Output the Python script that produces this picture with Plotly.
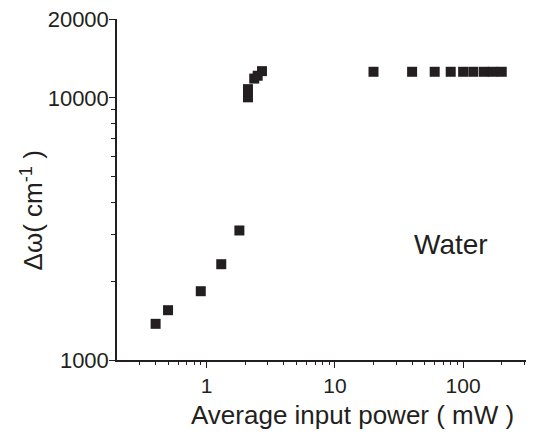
import plotly.graph_objects as go

# measured points (power in mW, delta omega in cm-1)
power = [0.4, 0.5, 0.9, 1.3, 1.8, 2.1, 2.1, 2.35, 2.5, 2.7,
         20, 40, 60, 80, 100, 120, 145, 170, 200]
delta_w = [1374, 1549, 1830, 2320, 3120, 10050, 10800, 11850, 12150, 12650,
           12580, 12580, 12580, 12580, 12580, 12580, 12580, 12580, 12580]

x_ticks = [1, 10, 100]
x_minor = [0.3, 0.4, 0.5, 0.6, 0.7, 0.8, 0.9, 2, 3, 4, 5, 6, 7, 8, 9,
           20, 30, 40, 50, 60, 70, 80, 90, 200, 300]
y_ticks = [1000, 10000, 20000]
y_minor = [2000, 3000, 4000, 5000, 6000, 7000, 8000, 9000]

ink = "#231f20"
font = "Liberation Sans, Arial, sans-serif"

fig = go.Figure()
fig.add_trace(go.Scatter(x=power, y=delta_w, mode="markers",
                         marker=dict(symbol="square", size=10, color=ink,
                                     line=dict(width=0))))

fig.add_annotation(x=1.907, y=3.441, xref="x", yref="y", text="Water",
                   showarrow=False, font=dict(size=28, color=ink, family=font))
# axis titles placed as annotations (original plot is cropped on the right)
fig.add_annotation(x=1.134, y=0, xref="x", yref="paper", yanchor="top",
                   yshift=-38, text="Average input power ( mW )",
                   showarrow=False, font=dict(size=26, color=ink, family=font))
fig.add_annotation(x=0, y=0.437, xref="paper", yref="paper", xanchor="right",
                   xshift=-66, textangle=-90,
                   text="\u0394\u03c9( cm<sup>-1</sup> )",
                   showarrow=False, font=dict(size=26, color=ink, family=font))

fig.update_xaxes(type="log", range=[-0.699, 2.5525], automargin=False,
                 tickvals=x_ticks, ticktext=[str(v) for v in x_ticks],
                 ticklabeloverflow="allow",
                 ticks="outside", ticklen=6, tickwidth=1.2, tickcolor=ink,
                 minor=dict(tickvals=x_minor, ticks="outside", ticklen=3,
                            tickwidth=1.2, tickcolor=ink, showgrid=False),
                 showline=True, linecolor=ink, linewidth=1.5,
                 showgrid=False, zeroline=False,
                 tickfont=dict(size=21, color=ink, family=font))
fig.update_yaxes(type="log", range=[3, 4.30104], automargin=False,
                 tickvals=y_ticks, ticktext=[str(v) for v in y_ticks],
                 ticklabeloverflow="allow", ticklabelstandoff=-4,
                 ticks="outside", ticklen=6, tickwidth=1.2, tickcolor=ink,
                 minor=dict(tickvals=y_minor, ticks="outside", ticklen=4,
                            tickwidth=1.2, tickcolor=ink, showgrid=False),
                 showline=True, linecolor=ink, linewidth=1.5,
                 showgrid=False, zeroline=False,
                 tickfont=dict(size=22, color=ink, family=font))

# page body adds an 8px margin, so the figure is 8px smaller and shifted back
fig.update_layout(width=526, height=426, showlegend=False,
                  margin=dict(l=109, r=0, t=11, b=74),
                  plot_bgcolor="white", paper_bgcolor="white",
                  font=dict(family=font, color=ink))

fig.write_html("out.html")
